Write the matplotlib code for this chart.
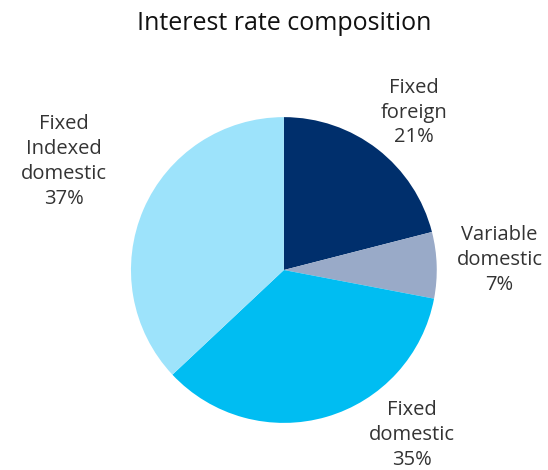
import matplotlib.pyplot as plt

labels = ["Fixed\nforeign", "Variable\ndomestic", "Fixed\ndomestic", "Fixed\nIndexed\ndomestic"]
shares = [21, 7, 35, 37]
colors = ["#002F6C", "#99AAC8", "#00BDF2", "#9DE3FB"]
# label spots in units of the pie radius
label_xy = [(0.85, 1.03), (1.41, 0.065), (0.84, -1.08), (-1.44, 0.71)]

plt.rcParams['font.family'] = ['Open Sans', 'DejaVu Sans']

fig = plt.figure(figsize=(5.48, 4.70), dpi=100)
ax = fig.add_axes([0.239, 0.100, 0.558, 0.651])
ax.pie(shares, colors=colors, startangle=90, counterclock=False, radius=1)
ax.set_xlim(-1, 1)
ax.set_ylim(-1, 1)
ax.set_aspect('equal')

for lab, val, (x, y) in zip(labels, shares, label_xy):
    ax.text(x, y, "{}\n{}%".format(lab, val), ha='center', va='center',
            fontsize=14.5, color='#333333', linespacing=1.32, clip_on=False)

fig.text(0.518, 0.950, "Interest rate composition", ha='center', va='center',
         fontsize=18, color='#111111')

fig.savefig("out.png", dpi=100)
